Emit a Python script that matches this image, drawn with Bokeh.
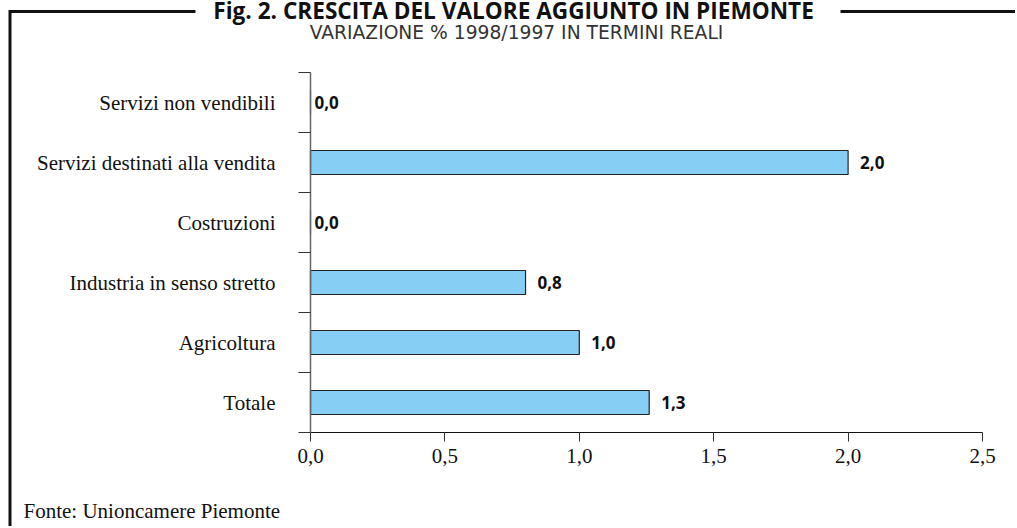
from bokeh.plotting import figure
from bokeh.models import Range1d, LinearAxis, FixedTicker, CustomJSTickFormatter, ColumnDataSource
from bokeh.core.properties import value
from bokeh.embed import file_html
from bokeh.resources import INLINE

# ---- data (bottom to top) ----
categories = ["Totale", "Agricoltura", "Industria in senso stretto", "Costruzioni",
              "Servizi destinati alla vendita", "Servizi non vendibili"]
values = [1.26, 1.0, 0.8, 0.0, 2.0, 0.0]
x_ticks = [0.0, 0.5, 1.0, 1.5, 2.0, 2.5]
title_text = "Fig. 2.  CRESCITA DEL VALORE AGGIUNTO IN PIEMONTE"
subtitle_text = "VARIAZIONE % 1998/1997 IN TERMINI REALI"
source_text = "Fonte: Unioncamere Piemonte"

# ---- layout (page pixels) ----
W, H = 1015, 526
PAGE_X0 = 0
X0_PX, X1_PX = 310, 982
Y0_PX, YT_PX = 432, 72
n = len(categories)
ux = (X1_PX - X0_PX) / x_ticks[-1]
uy = (Y0_PX - YT_PX) / n


def dx(px):
    return (px - X0_PX) / ux


def dy(py):
    return (Y0_PX - py) / uy


p = figure(width=W, height=H,
           x_range=Range1d(dx(PAGE_X0), dx(PAGE_X0 + W)),
           y_range=Range1d(dy(H), dy(0)),
           x_axis_location=None, y_axis_location=None,
           output_backend="svg", toolbar_location=None,
           min_border=0, outline_line_color=None)
p.grid.visible = False
p.background_fill_color = "white"
p.border_fill_color = "white"

centers = [i + 0.5 for i in range(n)]
labels = [f"{v:.1f}".replace(".", ",") for v in values]
xoff = [12 if v > 0 else 4 for v in values]
src = ColumnDataSource(dict(y=centers, value=values, label=labels, xoff=xoff))

# bars
p.hbar(y="y", left=0, right="value", height=0.4, source=src,
       fill_color="#87CEF5", line_color="#222222", line_width=1.2)

# value labels
p.text(x="value", y="y", text="label", x_offset="xoff", source=src,
       text_baseline="middle", text_align="left",
       text_font=value("Open Sans"), text_font_style="bold",
       text_font_size="17px", text_color="#111111")

# x axis
xaxis = LinearAxis(fixed_location=0, bounds=(0, x_ticks[-1]),
                   ticker=FixedTicker(ticks=x_ticks),
                   formatter=CustomJSTickFormatter(code="return tick.toFixed(1).replace('.', ',')"))
xaxis.axis_line_color = "#111111"
xaxis.axis_line_width = 1
xaxis.major_tick_out = 9
xaxis.major_tick_in = 0
xaxis.major_tick_line_color = "#333333"
xaxis.minor_tick_line_color = None
xaxis.major_label_standoff = 7
xaxis.major_label_text_font = "Liberation Serif"
xaxis.major_label_text_font_size = "21px"
xaxis.major_label_text_color = "#111111"
p.add_layout(xaxis, "below")

# y axis
yaxis = LinearAxis(fixed_location=0, bounds=(0, n),
                   ticker=FixedTicker(ticks=centers, minor_ticks=list(range(n + 1))),
                   major_label_overrides={c: cat for c, cat in zip(centers, categories)})
yaxis.axis_line_color = "#666666"
yaxis.axis_line_width = 1.5
yaxis.major_tick_out = 0
yaxis.major_tick_in = 0
yaxis.major_tick_line_color = None
yaxis.minor_tick_out = 12
yaxis.minor_tick_in = 0
yaxis.minor_tick_line_color = "#333333"
yaxis.major_label_standoff = 23
yaxis.major_label_text_font = "Liberation Serif"
yaxis.major_label_text_font_size = "21px"
yaxis.major_label_text_color = "#111111"
p.add_layout(yaxis, "left")

# outer frame lines
p.line(x=[dx(195), dx(9.5), dx(9.5)], y=[dy(11), dy(11), dy(560)],
       line_color="#111111", line_width=3, line_join="miter")
p.line(x=[dx(840), dx(1040)], y=[dy(11), dy(11)],
       line_color="#111111", line_width=3)

# titles
p.text(x=[dx(516)], y=[dy(10)], text=[title_text],
       text_align="center", text_baseline="alphabetic",
       text_font=value("Open Sans"), text_font_style="bold",
       text_font_size="22.6px", text_color="#111111")
p.text(x=[dx(516)], y=[dy(32)], text=[subtitle_text],
       text_align="center", text_baseline="alphabetic",
       text_font=value("DejaVu Sans"), text_font_size="18.7px",
       text_color="#333333")
p.text(x=[dx(23)], y=[dy(510)], text=[source_text],
       text_align="left", text_baseline="alphabetic",
       text_font=value("Liberation Serif"), text_font_size="21px",
       text_color="#111111")

open("out.html", "w").write(file_html(p, INLINE))
